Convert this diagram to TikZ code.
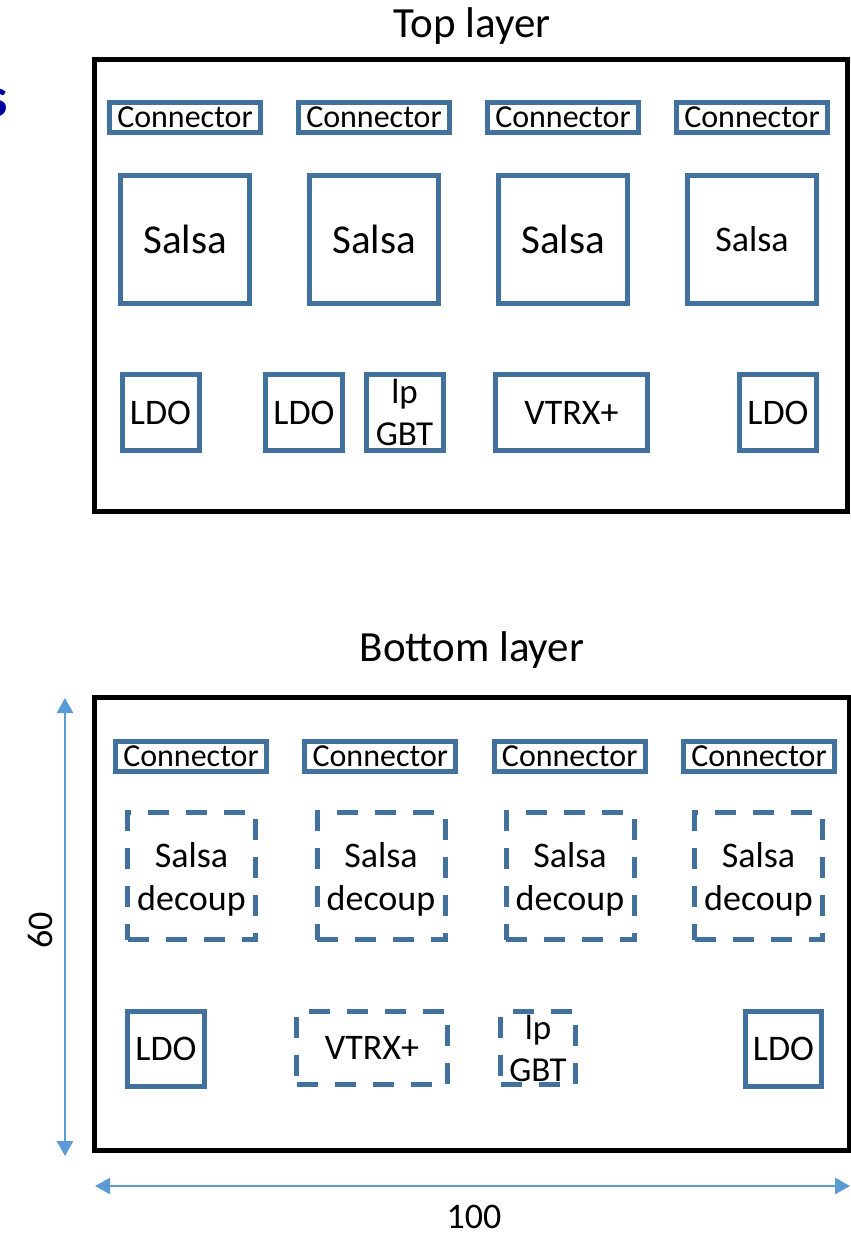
\documentclass[tikz,border=0pt]{standalone}
\usepackage{fontspec}
\setmainfont{Carlito}
\usetikzlibrary{arrows.meta}
\definecolor{boxblue}{RGB}{65,113,156}
\definecolor{arrowblue}{RGB}{91,155,213}
\definecolor{navyblue}{RGB}{0,0,160}
\begin{document}
\begin{tikzpicture}[x=1pt,y=-1pt,
  comp/.style={draw=boxblue, line width=5pt, rectangle, inner sep=0pt, align=center, font=\fontsize{36}{43}\selectfont},
  dcomp/.style={comp, dash pattern=on 21pt off 17pt},
  board/.style={draw=black, line width=5pt, rectangle, inner sep=0pt},
  conn/.style={comp, minimum width=151pt, minimum height=30pt, font=\fontsize{32}{38}\selectfont},
  salsa/.style={comp, minimum width=129pt, minimum height=128pt, font=\fontsize{41}{48}\selectfont},
  decoup/.style={dcomp, minimum width=128pt, minimum height=127pt, text depth=0pt},
  ldo/.style={comp, minimum width=77pt, minimum height=76pt},
  lpgbt/.style={font=\fontsize{35}{42}\selectfont},
  dim/.style={draw=arrowblue, line width=2.5pt, {Triangle[length=15pt,width=16pt]}-{Triangle[length=15pt,width=16pt]}},
  ttl/.style={font=\fontsize{43}{50}\selectfont, inner sep=0pt},
  lbl/.style={font=\fontsize{36}{43}\selectfont, inner sep=0pt}
]
\useasboundingbox (0,0) rectangle (851,1234);

% cut-off title letter
\node[font=\fontsize{56}{60}\selectfont\bfseries, text=navyblue, anchor=east, inner sep=0pt] (cut) at (8.5,103) {s};

% ---------- Top layer ----------
\node[ttl, anchor=base] (toptitle) at (472,37) {Top layer};
\node[board, minimum width=753pt, minimum height=451.5pt] (topboard) at (471,285.25) {};

\node[conn] (tc1) at (185,117) {Connector};
\node[conn] (tc2) at (374,117) {Connector};
\node[conn] (tc3) at (563,117) {Connector};
\node[conn] (tc4) at (752,117) {Connector};

\node[salsa] (ts1) at (185,239.5) {Salsa};
\node[salsa] (ts2) at (374,239.5) {Salsa};
\node[salsa] (ts3) at (563,239.5) {Salsa};
\node[salsa, font=\fontsize{36}{43}\selectfont] (ts4) at (752,239.5) {Salsa};

\node[ldo] (tl1) at (160.5,412.5) {LDO};
\node[ldo] (tl2) at (304,412.5) {LDO};
\node[ldo, lpgbt] (tlp) at (404.5,412.5) {lp\\GBT};
\node[comp, minimum width=152pt, minimum height=76pt] (tvt) at (571.5,412.5) {VTRX+};
\node[ldo] (tl3) at (778,412.5) {LDO};

% ---------- Bottom layer ----------
\node[ttl, anchor=base] (bottitle) at (472,661) {Bottom layer};
\node[board, minimum width=754.5pt, minimum height=453pt] (botboard) at (471.75,924) {};

\node[conn] (bc1) at (191,756) {Connector};
\node[conn] (bc2) at (380.3,756) {Connector};
\node[conn] (bc3) at (569.7,756) {Connector};
\node[conn] (bc4) at (759,756) {Connector};

\node[decoup] (bs1) at (191.5,876) {Salsa\\decoup};
\node[decoup] (bs2) at (381,876) {Salsa\\decoup};
\node[decoup] (bs3) at (570,876) {Salsa\\decoup};
\node[decoup] (bs4) at (758.5,876) {Salsa\\decoup};

\node[ldo, minimum height=75pt] (bl1) at (166,1049) {LDO};
\node[dcomp, minimum width=151pt, minimum height=73pt] (bvt) at (372,1048) {VTRX+};
\node[dcomp, lpgbt, minimum width=75pt, minimum height=73pt] (blp) at (538,1048) {lp\\GBT};
\node[ldo, minimum width=76pt, minimum height=75pt] (bl2) at (783.5,1049) {LDO};

% ---------- Dimensions ----------
\coordinate (v1) at (65,698);
\coordinate (v2) at (65,1156);
\coordinate (h1) at (95,1186);
\coordinate (h2) at (850,1186);
\draw[dim] (v1) -- (v2);
\draw[dim] (h1) -- (h2);
\node[lbl, rotate=90] (len60) at (40,930) {60};
\node[lbl] (len100) at (474,1217) {100};
\end{tikzpicture}
\end{document}
